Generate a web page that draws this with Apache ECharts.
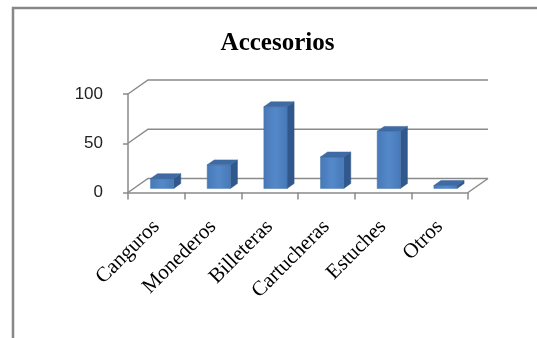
<!DOCTYPE html>
<html>
<head>
<meta charset="utf-8">
<script src="https://cdn.jsdelivr.net/npm/echarts@6/dist/echarts.min.js"></script>
<style>
html,body{margin:0;padding:0;background:#fff;}
#chart{width:537px;height:338px;}
</style>
</head>
<body>
<div id="chart"></div>
<script>
const categories = ['Canguros', 'Monederos', 'Billeteras', 'Cartucheras', 'Estuches', 'Otros'];
const values = [10, 24, 83, 32, 58, 3];
const yTicks = [0, 50, 100];
const titleText = 'Accesorios';

const DX = 20, DY = -14;          // depth of the 3D box
const FRONT = 0.29, BACK = 0.64;  // bar depth range (fraction of depth)
const LINE = '#8a8a8a';

const chart = echarts.init(document.getElementById('chart'), null, {renderer: 'canvas'});

function wallRender(params, api) {
  const v = api.value(1);
  const n = categories.length;
  const band = api.size([1, 0])[0];
  const pL = api.coord([0, v]);
  const pR = api.coord([n - 1, v]);
  const xl = pL[0] - band / 2, xr = pR[0] + band / 2, y = pL[1];
  const children = [{
    type: 'polyline',
    shape: {points: [[xl, y], [xl + DX, y + DY], [xr + DX, y + DY]]},
    style: {stroke: LINE, lineWidth: 1.5, fill: null}
  }];
  if (v === 0) {
    children.push({
      type: 'line',
      shape: {x1: xr + DX, y1: y + DY, x2: xr, y2: y},
      style: {stroke: LINE, lineWidth: 1.5}
    });
  }
  return {type: 'group', children};
}

function barRender(params, api) {
  const i = api.value(0), v = api.value(1);
  const c0 = api.coord([i, 0]);
  const c1 = api.coord([i, v]);
  const band = api.size([1, 0])[0];
  const w = band * 0.41;
  const fx = DX * FRONT, fy = DY * FRONT;
  const ddx = DX * (BACK - FRONT), ddy = DY * (BACK - FRONT);
  const xl = c0[0] - w / 2 + fx, xr = xl + w;
  const yb = c0[1] + fy, yt = c1[1] + fy;
  return {
    type: 'group',
    children: [
      {
        type: 'polygon',
        shape: {points: [[xr, yt], [xr + ddx, yt + ddy], [xr + ddx, yb + ddy], [xr, yb]]},
        style: {fill: '#30588c', stroke: '#2d5283', lineWidth: 0.5}
      },
      {
        type: 'rect',
        shape: {x: xl, y: yt, width: w, height: yb - yt},
        style: {
          fill: new echarts.graphic.LinearGradient(0, 0, 1, 0, [
            {offset: 0, color: '#4878b8'},
            {offset: 0.5, color: '#5489c9'},
            {offset: 1, color: '#4878b8'}
          ]),
          stroke: '#4272ad', lineWidth: 0.5
        }
      },
      {
        type: 'polygon',
        shape: {points: [[xl, yt], [xr, yt], [xr + ddx, yt + ddy], [xl + ddx, yt + ddy]]},
        style: {fill: '#3f6ba5', stroke: '#3a659c', lineWidth: 0.5}
      }
    ]
  };
}

const option = {
  animation: false,
  graphic: [
    {
      type: 'rect', silent: true, z: -10,
      shape: {x: 13, y: 8, width: 700, height: 500},
      style: {fill: '#ffffff', stroke: '#878787', lineWidth: 2.5}
    },
    {
      type: 'text', z: 10,
      style: {
        text: titleText, x: 277.5, y: 44, textAlign: 'center', textVerticalAlign: 'middle',
        font: 'bold 25px "Liberation Serif", "Times New Roman", serif', fill: '#000'
      }
    }
  ],
  grid: {left: 128, top: 94, width: 340, height: 98.5, containLabel: false},
  xAxis: {
    type: 'category',
    data: categories,
    boundaryGap: true,
    axisLine: {show: true, lineStyle: {color: LINE, width: 1.5}},
    axisTick: {show: true, length: 7, lineStyle: {color: LINE, width: 1.5}},
    axisLabel: {
      rotate: 45, margin: 31, interval: 0,
      fontFamily: '"Liberation Serif", "Times New Roman", serif', fontSize: 21, color: '#000'
    },
    splitLine: {show: false}
  },
  yAxis: {
    type: 'value', min: 0, max: 100, interval: 50,
    axisLine: {show: true, lineStyle: {color: LINE, width: 1.5}},
    axisTick: {show: true, length: 5, lineStyle: {color: LINE, width: 1.5}},
    axisLabel: {
      margin: 25, fontFamily: '"Liberation Sans", Arial, sans-serif', fontSize: 17, color: '#222'
    },
    splitLine: {show: false}
  },
  series: [
    {
      type: 'custom', name: 'walls', clip: false, silent: true, z: 1,
      renderItem: wallRender,
      data: yTicks.map(v => [0, v])
    },
    {
      type: 'custom', name: 'Accesorios', clip: false, z: 5,
      renderItem: barRender,
      data: values.map((v, i) => [i, v])
    }
  ]
};
chart.setOption(option);
</script>
</body>
</html>
